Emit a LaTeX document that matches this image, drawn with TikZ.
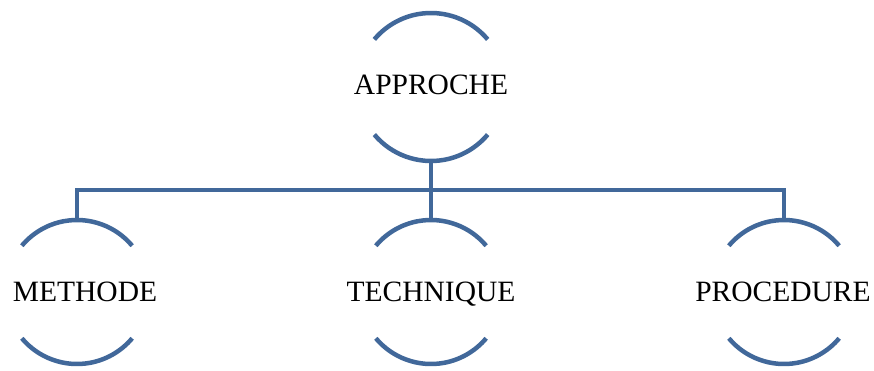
\documentclass[tikz,border=0pt]{standalone}
\usepackage{fontspec}
\setmainfont{Liberation Serif}
\definecolor{linkblue}{RGB}{65,104,154}
\begin{document}
\begin{tikzpicture}[x=1pt,y=1pt,
  ring/.style={circle,minimum size=#1,inner sep=0pt,outer sep=0pt},
  label text/.style={anchor=base,inner sep=0pt,font=\fontsize{29.5}{31}\selectfont},
  link/.style={draw=linkblue,line width=4.5pt}]
\useasboundingbox (0,0) rectangle (874,370);
% circles (invisible shapes)
\node[ring=148] (app) at (431,283) {};
\node[ring=144] (meth) at (77,78) {};
\node[ring=144] (tech) at (431,78) {};
\node[ring=144] (proc) at (784,78) {};
% texts
\node[label text] (appt) at (431,275) {APPROCHE};
\node[label text] (metht) at (85,69) {METHODE};
\node[label text] (techt) at (431,69) {TECHNIQUE};
\node[label text] (proct) at (783,69) {PROCEDURE};
% arcs
\draw[link] (app.40) arc[start angle=40,end angle=140,radius=74];
\draw[link] (app.220) arc[start angle=220,end angle=320,radius=74];
\foreach \n in {meth,tech,proc}{
  \draw[link] (\n.40) arc[start angle=40,end angle=140,radius=72];
  \draw[link] (\n.220) arc[start angle=220,end angle=320,radius=72];
}
% connectors
\coordinate (bus) at (431,180);
\draw[link] (app.south) -- (tech.north);
\draw[link] (meth.north) |- (bus) -| (proc.north);
\end{tikzpicture}
\end{document}
